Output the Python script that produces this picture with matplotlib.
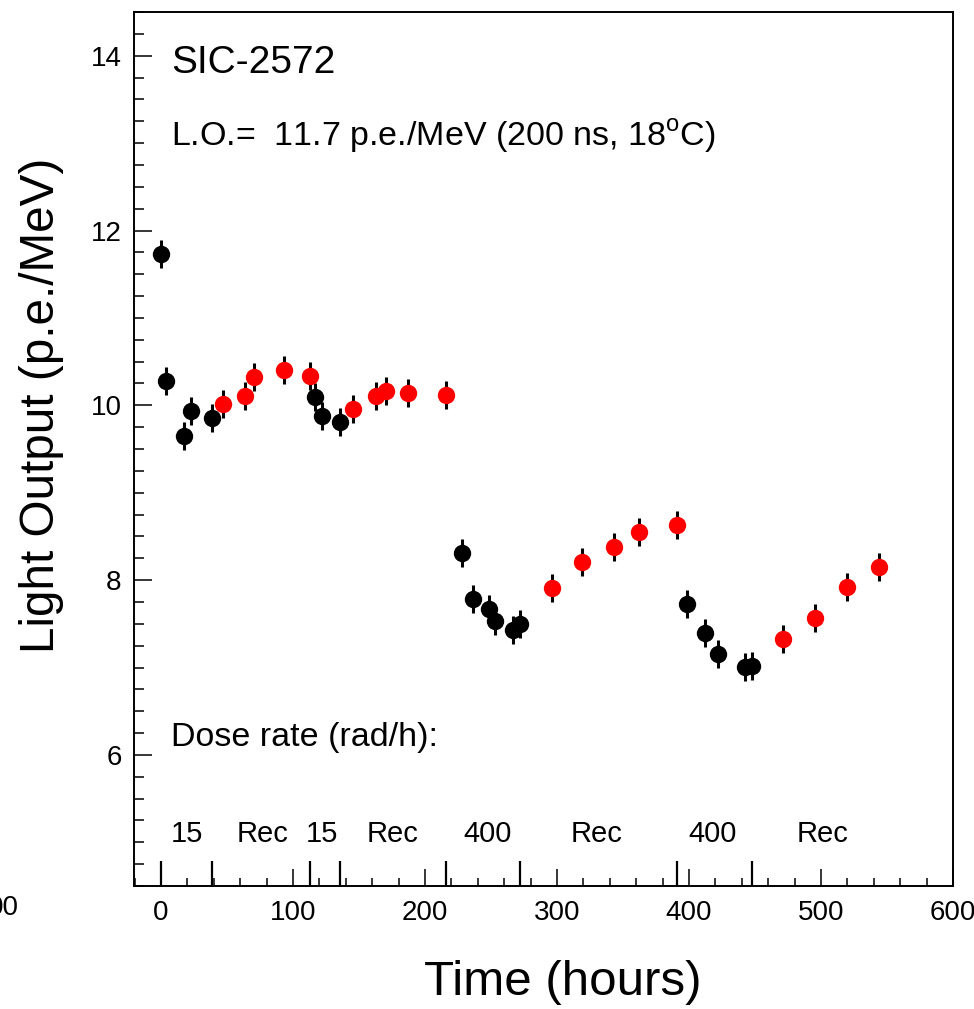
import matplotlib
matplotlib.use("Agg")
import matplotlib.pyplot as plt
import matplotlib.transforms as mtransforms
from matplotlib.ticker import MultipleLocator

plt.rcParams["font.family"] = ["Liberation Sans", "DejaVu Sans"]
plt.rcParams["mathtext.fontset"] = "custom"
plt.rcParams["mathtext.rm"] = "Liberation Sans"

# irradiation points (black)
irr_t = [0, 3.5, 17.7, 22.7, 38.9, 116.7, 121.7, 135.6,
         227.8, 236.6, 248.7, 253, 266.9, 272, 398.2, 412.4, 422.2, 442.4, 448]
irr_lo = [11.73, 10.28, 9.65, 9.935, 9.85, 10.09, 9.875, 9.806,
          8.31, 7.78, 7.67, 7.53, 7.43, 7.50, 7.73, 7.40, 7.16, 7.01, 7.02]

# recovery points (red)
rec_t = [46.7, 63.6, 70.7, 93.4, 112.9, 145.7, 162.6, 170.2, 186.9, 215.9,
         296, 319, 343, 361.9, 391.2, 471.4, 495.5, 519.5, 543.7]
rec_lo = [10.015, 10.11, 10.32, 10.4, 10.34, 9.96, 10.11, 10.16, 10.145, 10.12,
          7.905, 8.21, 8.38, 8.55, 8.63, 7.33, 7.57, 7.92, 8.15]

lo_err = 0.16

# dose-rate periods
period_edges = [0, 38.9, 112.9, 135.6, 215.9, 272, 391.2, 448]
period_labels = ["15", "Rec", "15", "Rec", "400", "Rec", "400", "Rec"]
label_pos = [19.5, 77, 122, 175, 247, 330, 418, 501]

fig = plt.figure(figsize=(9.74, 10.09), dpi=100)
ax = fig.add_axes([0.1376, 0.1219, 0.8409, 0.8662])

ax.errorbar(irr_t, irr_lo, yerr=lo_err, fmt="o", color="black", ms=11.5,
            elinewidth=2.2, capsize=0, zorder=3)
ax.errorbar(rec_t, rec_lo, yerr=lo_err, fmt="o", color="red", ecolor="black",
            ms=11.5, elinewidth=2.2, capsize=0, zorder=3)

ax.set_xlim(-20.5, 600)
ax.set_ylim(4.5, 14.5)

ax.xaxis.set_major_locator(MultipleLocator(100))
ax.xaxis.set_minor_locator(MultipleLocator(20))
ax.yaxis.set_major_locator(MultipleLocator(2))
ax.yaxis.set_minor_locator(MultipleLocator(0.25))

ax.tick_params(axis="both", which="both", direction="in", width=1.1,
               labelsize=20, top=False, right=False)
ax.tick_params(axis="y", which="major", length=13, pad=9)
ax.tick_params(axis="y", which="minor", length=7)
ax.tick_params(axis="x", which="major", length=12, pad=10)
ax.tick_params(axis="x", which="minor", length=6)
for s in ax.spines.values():
    s.set_linewidth(1.4)

# period boundary markers
trans = mtransforms.blended_transform_factory(ax.transData, ax.transAxes)
ax.vlines(period_edges, 0, 0.0286, colors="black", linewidth=1.6, transform=trans)
for x, lab in zip(label_pos, period_labels):
    ax.text(x, 5.1, lab, ha="center", va="center", fontsize=21)

ax.text(7.5, 6.2, "Dose rate (rad/h):", ha="left", va="center", fontsize=24.5)
ax.text(7.5, 13.92, "SIC-2572", ha="left", va="center", fontsize=28)
ax.text(7.5, 13.08, r"L.O.=  11.7 p.e./MeV (200 ns, 18$^{\rm o}$C)",
        ha="left", va="center", fontsize=24.5)

ax.set_xlabel("Time (hours)", fontsize=35.5)
ax.set_ylabel("Light Output (p.e./MeV)", fontsize=34.3)
ax.xaxis.set_label_coords(0.524, -0.085)
ax.yaxis.set_label_coords(-0.085, 0.55)

# clipped leftover tick label at the far left
fig.text(19 / 974, 1 - 908 / 1009, "00", ha="right", va="center", fontsize=20)

fig.savefig("out.png", dpi=100)
